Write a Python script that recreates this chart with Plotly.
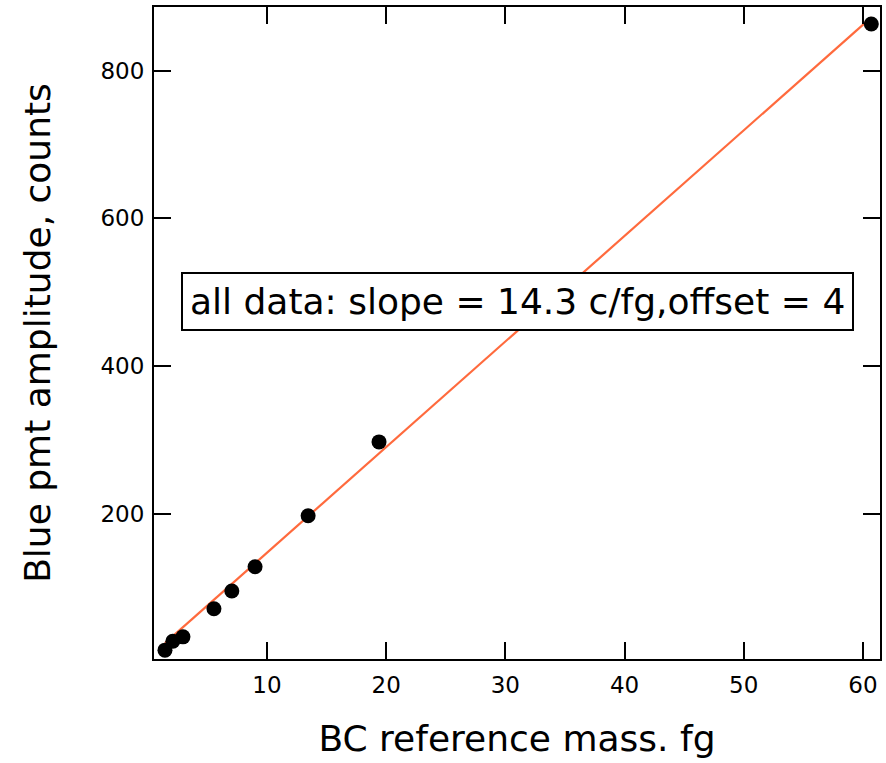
import plotly.graph_objects as go

# Data
bc_mass_fg = [1.44, 2.1, 2.95, 5.55, 7.05, 9.0, 13.45, 19.4, 60.7]
blue_pmt_counts = [15, 27, 33, 71, 95, 128, 197, 297, 863]

# Linear fit parameters (from the annotation)
fit_slope = 14.3
fit_offset = 4.0
fit_x = [bc_mass_fg[0], bc_mass_fg[-1]]
fit_y = [fit_slope * v + fit_offset for v in fit_x]

x_ticks = [10, 20, 30, 40, 50, 60]
y_ticks = [200, 400, 600, 800]

FONT = "DejaVu Sans"

fig = go.Figure()
fig.add_trace(go.Scatter(
    x=fit_x, y=fit_y, mode="lines",
    line=dict(color="#ff6a3d", width=2.2),
    showlegend=False, hoverinfo="skip",
))
fig.add_trace(go.Scatter(
    x=bc_mass_fg, y=blue_pmt_counts, mode="markers",
    marker=dict(color="black", size=15),
    showlegend=False, cliponaxis=False,
))

axis_common = dict(
    showline=True, linecolor="black", linewidth=2, mirror="ticks",
    ticks="inside", ticklen=17, tickwidth=1.5, tickcolor="black",
    showgrid=False, zeroline=False,
    tickfont=dict(family=FONT, size=23, color="black"),
)

fig.update_xaxes(
    range=[0.52, 61.43], tickvals=x_ticks,
    title=dict(text="BC reference mass. fg", font=dict(family=FONT, size=36, color="black"), standoff=29),
    ticklabelstandoff=4,
    **axis_common,
)
fig.update_yaxes(
    range=[3, 886], tickvals=y_ticks,
    title=dict(text="Blue pmt amplitude, counts", font=dict(family=FONT, size=36, color="black"), standoff=39),
    ticklabelstandoff=3,
    **axis_common,
)

fig.add_annotation(
    x=0.501, y=0.548, xref="paper", yref="paper",
    text="all data: slope = 14.3 c/fg,offset = 4",
    showarrow=False,
    font=dict(family=FONT, size=36, color="black"),
    bordercolor="black", borderwidth=2, borderpad=7,
    bgcolor="white",
)

fig.update_layout(
    width=886, height=763,
    margin=dict(l=154, r=6, t=7, b=104, autoexpand=False),
    paper_bgcolor="white", plot_bgcolor="white",
    font=dict(family=FONT, color="black"),
)

fig.write_html(
    "out.html",
    config={"displayModeBar": False},
    post_script="document.body.style.margin='0';document.body.style.overflow='hidden';",
)
